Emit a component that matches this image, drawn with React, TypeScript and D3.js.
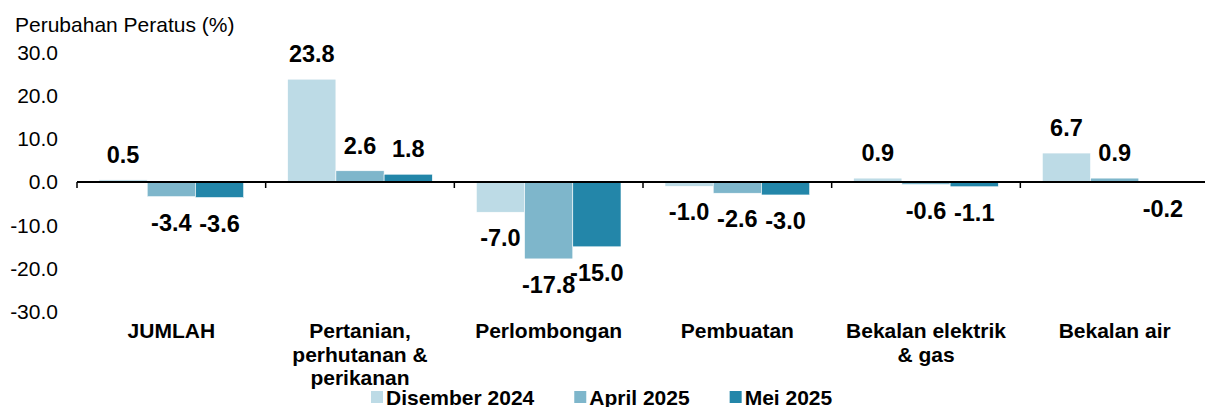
import { useEffect, useRef } from 'react';
import * as d3 from 'd3';

const categories = ['JUMLAH', 'Pertanian, perhutanan & perikanan', 'Perlombongan', 'Pembuatan', 'Bekalan elektrik & gas', 'Bekalan air'];
const categoryLines = [
  ['JUMLAH'],
  ['Pertanian,', 'perhutanan &', 'perikanan'],
  ['Perlombongan'],
  ['Pembuatan'],
  ['Bekalan elektrik', '& gas'],
  ['Bekalan air'],
];
const seriesNames = ['Disember 2024', 'April 2025', 'Mei 2025'];
const seriesColors = ['#bddbe6', '#7eb6cb', '#2386a9'];
const dis2024 = [0.5, 23.8, -7.0, -1.0, 0.9, 6.7];
const apr2025 = [-3.4, 2.6, -17.8, -2.6, -0.6, 0.9];
const mei2025 = [-3.6, 1.8, -15.0, -3.0, -1.1, -0.2];
const yTicks = [30, 20, 10, 0, -10, -20, -30];

const W = 1205;
const H = 407;

const App = () => {
  const svgRef = useRef<SVGSVGElement>(null);

  useEffect(() => {
    const svg = d3.select(svgRef.current);
    svg.selectAll('*').remove();

    const font = 'Liberation Sans, Arial, sans-serif';
    const values = [dis2024, apr2025, mei2025];

    const y = d3.scaleLinear().domain([-30, 30]).range([311.6, 52.4]);
    const x = d3.scaleBand().domain(categories).range([77, 1209]).padding(0);
    const groupPad = 22;
    const xs = d3.scaleBand().domain(seriesNames).range([groupPad, x.bandwidth() - groupPad]).padding(0);

    // title
    svg.append('text')
      .attr('x', 15).attr('y', 32)
      .style('font-family', font).style('font-size', '21px').style('fill', '#000')
      .text('Perubahan Peratus (%)');

    // y tick labels
    svg.append('g').selectAll('text')
      .data(yTicks)
      .enter().append('text')
      .attr('x', 58)
      .attr('y', d => y(d))
      .attr('dy', '0.35em')
      .attr('text-anchor', 'end')
      .style('font-family', font).style('font-size', '21px').style('fill', '#000')
      .text(d => d.toFixed(1));

    // bars
    seriesNames.forEach((s, si) => {
      const g = svg.append('g').attr('fill', seriesColors[si]);
      g.selectAll('rect')
        .data(values[si])
        .enter().append('rect')
        .attr('x', (d, i) => (x(categories[i]) as number) + (xs(s) as number))
        .attr('y', d => y(Math.max(0, d)))
        .attr('width', xs.bandwidth())
        .attr('height', d => Math.abs(y(d) - y(0)))
        .attr('stroke', '#ffffff')
        .attr('stroke-width', 0.6);
    });

    // zero axis line + category ticks
    svg.append('line')
      .attr('x1', x.range()[0]).attr('x2', W)
      .attr('y1', y(0)).attr('y2', y(0))
      .attr('stroke', '#000').attr('stroke-width', 2);
    const bounds = categories.map(c => x(c) as number);
    svg.append('g').selectAll('line')
      .data(bounds)
      .enter().append('line')
      .attr('x1', d => d).attr('x2', d => d)
      .attr('y1', y(0)).attr('y2', y(0) + 6)
      .attr('stroke', '#000').attr('stroke-width', 1.5);

    // data labels
    seriesNames.forEach((s, si) => {
      svg.append('g').selectAll('text')
        .data(values[si])
        .enter().append('text')
        .attr('x', (d, i) => (x(categories[i]) as number) + (xs(s) as number) + xs.bandwidth() / 2)
        .attr('y', d => (d >= 0 ? y(d) - 17 : y(d) + 34))
        .attr('text-anchor', 'middle')
        .style('font-family', font).style('font-size', '23.5px').style('font-weight', 'bold').style('fill', '#000')
        .text(d => d.toFixed(1));
    });

    // category labels
    const cat = svg.append('g').selectAll('text')
      .data(categoryLines)
      .enter().append('text')
      .attr('x', (d, i) => (x(categories[i]) as number) + x.bandwidth() / 2)
      .attr('y', 338)
      .attr('text-anchor', 'middle')
      .style('font-family', font).style('font-size', '21px').style('font-weight', 'bold').style('fill', '#000');
    cat.each(function (lines, i) {
      const t = d3.select(this);
      const cx = (x(categories[i]) as number) + x.bandwidth() / 2;
      lines.forEach((ln, li) => {
        t.append('tspan').attr('x', cx).attr('dy', li === 0 ? 0 : 23.5).text(ln);
      });
    });

    // legend
    const legend = svg.append('g');
    let lx = 371;
    seriesNames.forEach((s, si) => {
      legend.append('rect')
        .attr('x', lx).attr('y', 391).attr('width', 12).attr('height', 12)
        .attr('fill', seriesColors[si]);
      const t = legend.append('text')
        .attr('x', lx + 15).attr('y', 404.5)
        .style('font-family', font).style('font-size', '21px').style('font-weight', 'bold').style('fill', '#000')
        .text(s);
      const w = (t.node() as SVGTextElement).getComputedTextLength();
      lx = lx + 15 + w + 40;
    });
  }, []);

  return (
    <svg
      ref={svgRef}
      width={W}
      height={H}
      style={{ position: 'absolute', left: 0, top: 0, background: '#fff' }}
    />
  );
};

export default App;
